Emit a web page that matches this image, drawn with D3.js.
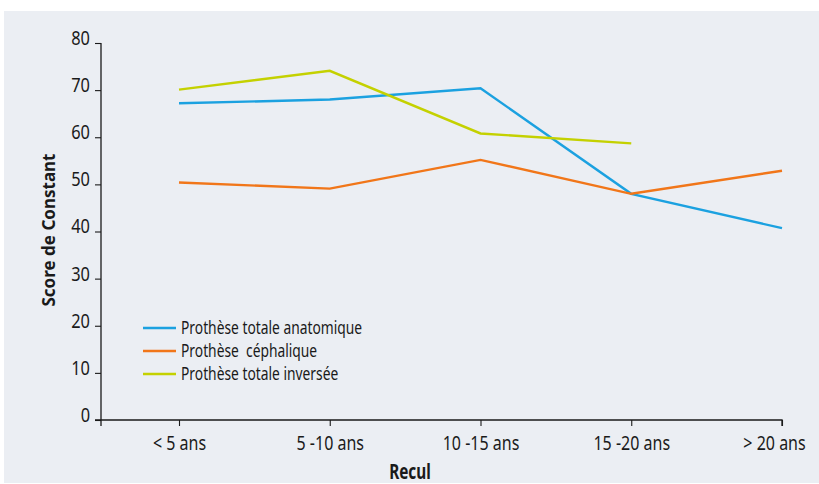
<!DOCTYPE html>
<html>
<head>
<meta charset="utf-8">
<script src="https://cdnjs.cloudflare.com/ajax/libs/d3/7.8.5/d3.min.js"></script>
<style>
    body { margin: 0; background: #ffffff; }
    svg { display: block; }
    text { font-family: "Noto Sans", "Open Sans", sans-serif; }
</style>
</head>
<body>
<script>
const categories = ["< 5 ans", "5 -10 ans", "10 -15 ans", "15 -20 ans", "> 20 ans"];
const yTicks = [0, 10, 20, 30, 40, 50, 60, 70, 80];

const seriesNames = ["Prothèse totale anatomique", "Prothèse  céphalique", "Prothèse totale inversée"];
const anatomique = [67.2, 68, 70.4, 48, 40.7];
const cephalique = [50.4, 49.1, 55.2, 48, 52.9];
const inversee = [70.1, 74.1, 60.8, 58.7];
const colors = ["#1ba1e0", "#f17619", "#c4d100"];

const svgWidth = 819;
const svgHeight = 484;

// no condensed font installed, so squeeze the glyphs horizontally
const condense = (sel, f) => {
    sel.each(function() {
        const t = d3.select(this);
        const x = +t.attr("x") || 0;
        const dx = +t.attr("dx") || 0;
        t.attr("x", x / f)
            .attr("dx", dx / f)
            .attr("transform", "scale(" + f + ",1)");
    });
};

const svg = d3.select("body")
                .append("svg")
                .attr("width", svgWidth)
                .attr("height", svgHeight);

// panel background
svg.append("rect")
    .attr("x", 4)
    .attr("y", 11)
    .attr("width", svgWidth - 4)
    .attr("height", svgHeight - 12)
    .attr("fill", "#ebeef3");

const axisX = 101;
const xScale = d3.scalePoint()
                .domain(categories)
                .range([179, 782]);

const yScale = d3.scaleLinear()
                .domain([0, 80])
                .range([420, 43]);

// y axis
const yAxis = d3.axisLeft(yScale).tickValues(yTicks).tickSize(6).tickSizeOuter(0);
const gy = svg.append("g")
    .attr("id", "y-axis")
    .attr("transform", "translate(" + axisX + ",0)")
    .call(yAxis);
gy.select(".domain").attr("stroke", "#1a1a1a").attr("stroke-width", 1.3)
    .attr("d", "M0," + yScale(80) + "V" + (yScale(0) + 6));
gy.selectAll(".tick line").attr("stroke", "#1a1a1a").attr("stroke-width", 1.1);
gy.selectAll(".tick text")
    .attr("x", -11)
    .attr("dy", "0.07em")
    .attr("dominant-baseline", "alphabetic")
    .style("font-size", "20px")
    .attr("fill", "#1a1a1a")
    .call(condense, 0.82);

// x axis
const xAxis = d3.axisBottom(xScale).tickSize(6).tickSizeOuter(0);
const gx = svg.append("g")
    .attr("id", "x-axis")
    .attr("transform", "translate(0," + yScale(0) + ")")
    .call(xAxis);
gx.select(".domain").attr("stroke", "#1a1a1a").attr("stroke-width", 1.3)
    .attr("d", "M" + (axisX - 6) + ",0H" + xScale.range()[1] + "V6");
gx.selectAll(".tick line").attr("stroke", "#1a1a1a").attr("stroke-width", 1.1);
gx.selectAll(".tick text")
    .attr("y", 30)
    .attr("dy", 0)
    .attr("dx", (d, i) => i === categories.length - 1 ? -8 : 0)
    .style("font-size", "20px")
    .attr("fill", "#1a1a1a")
    .call(condense, 0.8);

// axis titles
svg.append("text")
    .attr("x", 410)
    .attr("y", 479)
    .attr("text-anchor", "middle")
    .style("font-size", "21px")
    .style("font-weight", "bold")
    .attr("fill", "#1a1a1a")
    .text("Recul")
    .call(condense, 0.73);

svg.append("text")
    .attr("transform", "translate(55,230) rotate(-90)")
    .attr("text-anchor", "middle")
    .style("font-size", "17px")
    .style("font-weight", "bold")
    .attr("fill", "#1a1a1a")
    .text("Score de Constant");

// lines
const allSeries = [anatomique, cephalique, inversee];
const line = d3.line()
    .x((d, i) => xScale(categories[i]))
    .y((d) => yScale(d));

svg.selectAll("path.serie")
    .data(allSeries)
    .enter()
    .append("path")
    .attr("class", "serie")
    .attr("d", (d) => line(d))
    .attr("fill", "none")
    .attr("stroke", (d, i) => colors[i])
    .attr("stroke-width", 2.4);

// legend
const legend = svg.append("g")
    .attr("transform", "translate(143,328)");

legend.selectAll("line")
    .data(seriesNames)
    .enter()
    .append("line")
    .attr("x1", 0)
    .attr("x2", 33)
    .attr("y1", (d, i) => i * 23)
    .attr("y2", (d, i) => i * 23)
    .attr("stroke", (d, i) => colors[i])
    .attr("stroke-width", 2.4);

legend.selectAll("text")
    .data(seriesNames)
    .enter()
    .append("text")
    .attr("x", 38)
    .attr("y", (d, i) => i * 23 + 6)
    .style("font-size", "17.5px")
    .attr("xml:space", "preserve")
    .attr("fill", "#1a1a1a")
    .text((d) => d)
    .call(condense, 0.79);
</script>
</body>
</html>
